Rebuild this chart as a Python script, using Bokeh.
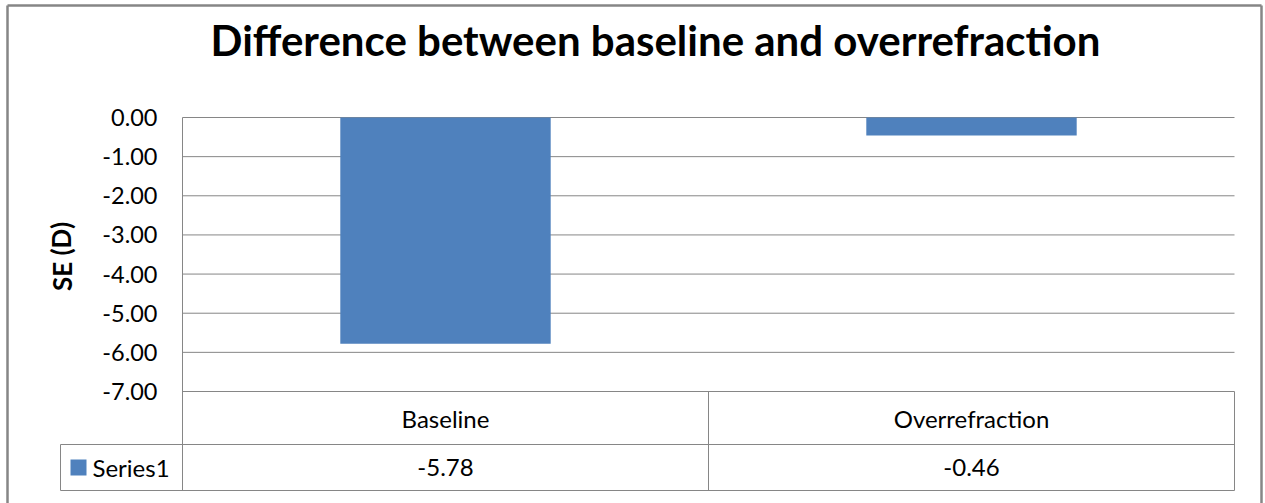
from bokeh.plotting import figure
from bokeh.models import Range1d
from bokeh.core.properties import value
from bokeh.embed import file_html
from bokeh.resources import INLINE

# ---- data ----
categories = ["Baseline", "Overrefraction"]
series_name = "Series1"
values = [-5.78, -0.46]
value_labels = ["-5.78", "-0.46"]
y_ticks = [0, -1, -2, -3, -4, -5, -6, -7]
y_tick_labels = ["0.00", "-1.00", "-2.00", "-3.00", "-4.00", "-5.00", "-6.00", "-7.00"]
title_text = "Difference between baseline and overrefraction"
y_label = "SE (D)"

# ---- layout (canvas px) ----
W, H = 1265, 503
PA_LEFT, PA_RIGHT, PA_TOP, PA_BOTTOM = 182, 1234, 117, 391
n_cat = len(categories)
px_per_x = (PA_RIGHT - PA_LEFT) / n_cat
px_per_y = (PA_BOTTOM - PA_TOP) / (y_ticks[0] - y_ticks[-1])

def dx(px):
    return (px - PA_LEFT) / px_per_x

def dy(py):
    return -(py - PA_TOP) / px_per_y

BAR_COLOR = "#4F81BD"
LINE_COLOR = "#868686"
FONT = "Lato"
TXT = "24px"

p = figure(width=W, height=H, output_backend="svg", toolbar_location=None,
           x_range=Range1d(dx(0), dx(W)), y_range=Range1d(dy(H), dy(0)),
           x_axis_location=None, y_axis_location=None, min_border=0,
           outline_line_color=None, background_fill_color="white",
           border_fill_color="white")
p.grid.visible = False

x_centers = [i + 0.5 for i in range(n_cat)]
y_min = y_ticks[-1]
row1 = dy(444)
row2 = dy(490)
leg_left = dx(60)

# gridlines
p.segment(x0=[0] * len(y_ticks), y0=y_ticks, x1=[n_cat] * len(y_ticks), y1=y_ticks,
          line_color=LINE_COLOR, line_width=1)

# bars
p.vbar(x=x_centers, top=[0] * n_cat, bottom=values, width=0.4,
       fill_color=BAR_COLOR, line_color=None)

# data table lines
p.segment(x0=[0, leg_left, leg_left, leg_left] + list(range(1, n_cat + 1)),
          y0=[0, row1, row2, row1] + [y_min] * n_cat,
          x1=[0, n_cat, n_cat, leg_left] + list(range(1, n_cat + 1)),
          y1=[row2, row1, row2, row2] + [row2] * n_cat,
          line_color=LINE_COLOR, line_width=1)

# outer chart border (left, top, right)
bx0, bx1, by0, by1 = dx(7), dx(1261), dy(5), dy(H + 5)
p.segment(x0=[bx0, bx0, bx1], y0=[by1, by0, by0], x1=[bx0, bx1, bx1], y1=[by0, by0, by1],
          line_color=LINE_COLOR, line_width=2.5)

# tick labels
p.text(x=[dx(157)] * len(y_ticks), y=y_ticks, text=y_tick_labels,
       text_font=value(FONT), text_font_size="23.5px", text_align="right",
       text_baseline="middle", text_color="black")

# axis title
p.text(x=[dx(61)], y=[dy(256)], text=[y_label], angle=1.5708,
       text_font=value(FONT), text_font_size="26px", text_font_style="bold",
       text_align="center", text_baseline="middle", text_color="black")

# chart title
p.text(x=[dx(655)], y=[dy(39)], text=[title_text],
       text_font=value(FONT), text_font_size="42px", text_font_style="bold",
       text_align="center", text_baseline="middle", text_color="black")

# category row
p.text(x=x_centers, y=[(y_min + row1) / 2] * n_cat, text=categories,
       text_font=value(FONT), text_font_size=TXT, text_align="center",
       text_baseline="middle", text_color="black")

# values row
p.text(x=x_centers, y=[(row1 + row2) / 2] * n_cat, text=value_labels,
       text_font=value(FONT), text_font_size=TXT, text_align="center",
       text_baseline="middle", text_color="black")

# legend key in table
p.scatter(x=[dx(78)], y=[(row1 + row2) / 2], marker="square", size=16,
          fill_color=BAR_COLOR, line_color=None)
p.text(x=[dx(92)], y=[(row1 + row2) / 2], text=[series_name],
       text_font=value(FONT), text_font_size=TXT, text_align="left",
       text_baseline="middle", text_color="black")

open("out.html", "w").write(file_html(p, INLINE))
